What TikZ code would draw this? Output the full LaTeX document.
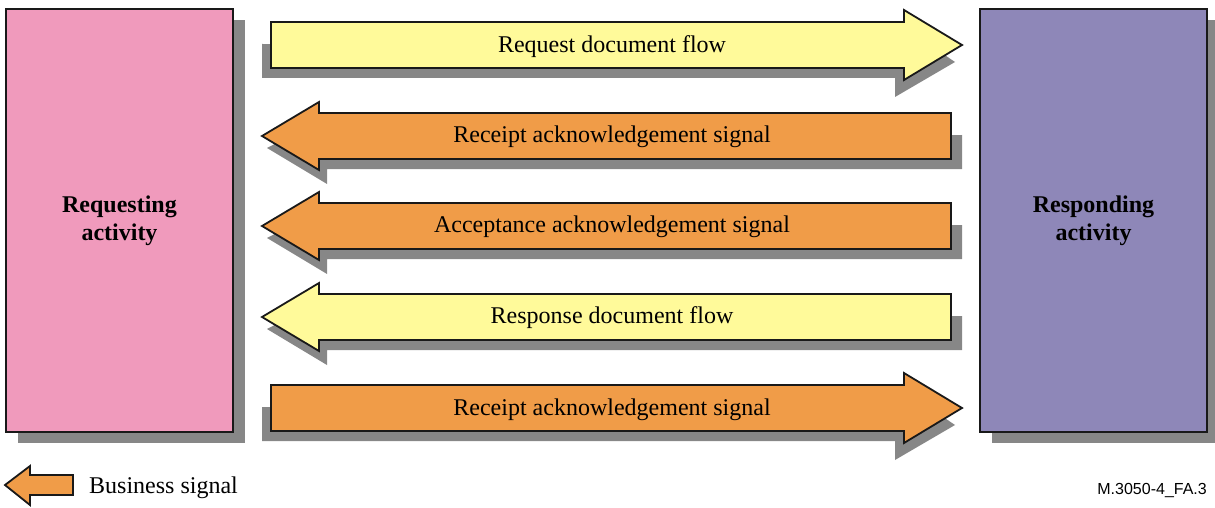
\documentclass[tikz,border=0pt]{standalone}
\usepackage{fontspec}
\setmainfont{Liberation Serif}
\newfontfamily\labelfont{Liberation Sans}
\definecolor{pinkbox}{HTML}{F09ABC}
\definecolor{purplebox}{HTML}{8E87B8}
\definecolor{yellowarr}{HTML}{FFFA9A}
\definecolor{orangearr}{HTML}{F09C48}
\definecolor{shadowgray}{HTML}{878787}
\tikzset{
  outline/.style={draw=black!90, line width=1.8pt, line join=miter},
  activitybox/.style={outline, minimum width=227pt, minimum height=423pt, inner sep=0pt,
    align=center, font=\fontsize{24}{28}\selectfont\bfseries},
  arrtext/.style={font=\fontsize{24}{28}\selectfont, inner sep=0pt},
  shade/.style={fill=shadowgray, draw=none},
}
\newcommand{\RArrowShape}[4]{%
  \fill[shade] (262,#1-1) -- (262,#1+33) -- (895,#1+33) -- (895,#1+52) -- (955,#1+17) -- (930,#1) -- cycle;
  \draw[outline, fill=#2] (271,#1-23) -- (904,#1-23) -- (904,#1-35) -- (962,#1) -- (904,#1+35) -- (904,#1+23) -- (271,#1+23) -- cycle;
  \node[arrtext] (#3) at (612,#1+2) {#4};
}
\newcommand{\LArrowShape}[4]{%
  \fill[shade] (962,#1-1) -- (962,#1+33) -- (327,#1+33) -- (327,#1+48) -- (267,#1+12) -- (290,#1) -- cycle;
  \draw[outline, fill=#2] (951,#1-23) -- (319,#1-23) -- (319,#1-34) -- (262,#1) -- (319,#1+34) -- (319,#1+23) -- (951,#1+23) -- cycle;
  \node[arrtext] (#3) at (612,#1+1) {#4};
}
\begin{document}
\begin{tikzpicture}[x=1pt, y=-1pt]
\useasboundingbox (0,0) rectangle (1215,508);
% shadows of the activity boxes
\fill[shade] (18,20) rectangle (245,443);
\fill[shade] (992,20) rectangle (1219,443);
% activity boxes
\node[activitybox, fill=pinkbox] (req) at (119.5,220.5) {Requesting\\activity};
\node[activitybox, fill=purplebox] (resp) at (1093.5,220.5) {Responding\\activity};
% arrows
\RArrowShape{45}{yellowarr}{a1}{Request document flow}
\LArrowShape{136}{orangearr}{a2}{Receipt acknowledgement signal}
\LArrowShape{226}{orangearr}{a3}{Acceptance acknowledgement signal}
\LArrowShape{317}{yellowarr}{a4}{Response document flow}
\RArrowShape{408}{orangearr}{a5}{Receipt acknowledgement signal}
% legend
\draw[outline, fill=orangearr] (73,475) -- (30,475) -- (30,466) -- (5,485) -- (30,505) -- (30,495) -- (73,495) -- cycle;
\node[arrtext, anchor=west] (legend) at (89,488) {Business signal};
\node[font=\labelfont\fontsize{16}{18}\selectfont, inner sep=0pt, anchor=east] (figid) at (1207,490) {M.3050-4\_FA.3};
\end{tikzpicture}
\end{document}
